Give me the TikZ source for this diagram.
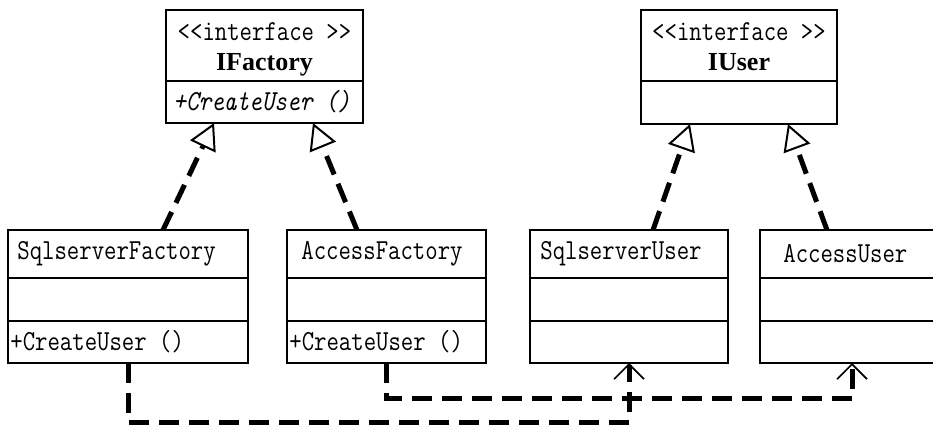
\documentclass[tikz,border=0pt]{standalone}
\usepackage{fontspec}
\setmainfont{Liberation Serif}
\newfontfamily\umlmono[FakeStretch=0.83]{Latin Modern Mono}
\usetikzlibrary{arrows.meta,positioning}

\tikzset{
  part/.style={draw, line width=1pt, inner sep=0pt, outer sep=0pt, anchor=north west},
  txt/.style={inner sep=0pt, font=\umlmono\fontsize{14.5pt}{16pt}\selectfont},
  optxt/.style={txt, font=\umlmono\itshape\fontsize{14.5pt}{16pt}\selectfont},
  iname/.style={inner sep=0pt, font=\bfseries\fontsize{13pt}{15pt}\selectfont},
  realize/.style={line width=2.5pt, dash pattern=on 10pt off 5pt,
    -{Triangle[open, length=13pt, width=14pt, line width=1pt]}},
  uses/.style={line width=2.5pt, dash pattern=on 10pt off 5pt,
    -{Straight Barb[length=7.5pt, width=15pt, line width=0.8pt]}},
}

\begin{document}
\begin{tikzpicture}[x=0.5pt, y=-0.5pt]
  \useasboundingbox (0,0) rectangle (933,428);
  \clip (0,0) rectangle (933,428);

  % interfaces
  \node[part, minimum width=98.5pt, minimum height=35.5pt] (ifacname) at (166,10) {};
  \node[part, minimum width=98.5pt, minimum height=21pt] (ifacops) at (ifacname.south west) {};
  \node[txt, below=6pt of ifacname.north] (ifacster) {<{}<interface >{}>};
  \node[iname, below=21.5pt of ifacname.north] (ifactitle) {IFactory};
  \node[optxt, right=3.5pt of ifacops.west] (ifacop) {+CreateUser ()};

  \node[part, minimum width=98pt, minimum height=35.5pt] (iusername) at (641,10) {};
  \node[part, minimum width=98pt, minimum height=21.5pt] (iuserops) at (iusername.south west) {};
  \node[txt, below=6pt of iusername.north] (iuserster) {<{}<interface >{}>};
  \node[iname, below=21.5pt of iusername.north] (iusertitle) {IUser};

  % concrete classes
  \node[part, minimum width=120pt, minimum height=24pt] (sqlfname) at (8,230) {};
  \node[part, minimum width=120pt, minimum height=21.5pt] (sqlfattr) at (sqlfname.south west) {};
  \node[part, minimum width=120pt, minimum height=21pt] (sqlfops) at (sqlfattr.south west) {};
  \node[txt, right=4.5pt of sqlfname.west] (sqlftitle) {SqlserverFactory};
  \node[txt, right=1pt of sqlfops.west] (sqlfop) {+CreateUser ()};

  \node[part, minimum width=99.5pt, minimum height=24pt] (accfname) at (287,230) {};
  \node[part, minimum width=99.5pt, minimum height=21.5pt] (accfattr) at (accfname.south west) {};
  \node[part, minimum width=99.5pt, minimum height=21pt] (accfops) at (accfattr.south west) {};
  \node[txt, right=7pt of accfname.west] (accftitle) {AccessFactory};
  \node[txt, right=1pt of accfops.west] (accfop) {+CreateUser ()};

  \node[part, minimum width=99pt, minimum height=24pt] (sqluname) at (530,230) {};
  \node[part, minimum width=99pt, minimum height=21.5pt] (sqluattr) at (sqluname.south west) {};
  \node[part, minimum width=99pt, minimum height=21pt] (sqluops) at (sqluattr.south west) {};
  \node[txt, right=5pt of sqluname.west] (sqlutitle) {SqlserverUser};

  \node[part, minimum width=92pt, minimum height=24pt] (accuname) at (760,230) {};
  \node[part, minimum width=92pt, minimum height=21.5pt] (accuattr) at (accuname.south west) {};
  \node[part, minimum width=92pt, minimum height=21pt] (accuops) at (accuattr.south west) {};
  \node[txt, right=11.5pt of accuname.west] (accutitle) {AccessUser};

  % realizations
  \draw[realize] ([xshift=17.5pt]sqlfname.north) -- ([xshift=-25.25pt]ifacops.south);
  \draw[realize] ([xshift=-14.75pt]accfname.north) -- ([xshift=24.25pt]ifacops.south);
  \draw[realize] ([xshift=12pt]sqluname.north) -- ([xshift=-24.5pt]iuserops.south);
  \draw[realize] ([xshift=-12.5pt]accuname.north) -- ([xshift=24.5pt]iuserops.south);

  % dependencies
  \draw[uses] (sqlfops.south) -- ++(0,59) -| (sqluops.south);
  \draw[uses] (accfops.south) -- ++(0,35) -| (accuops.south);
\end{tikzpicture}
\end{document}
